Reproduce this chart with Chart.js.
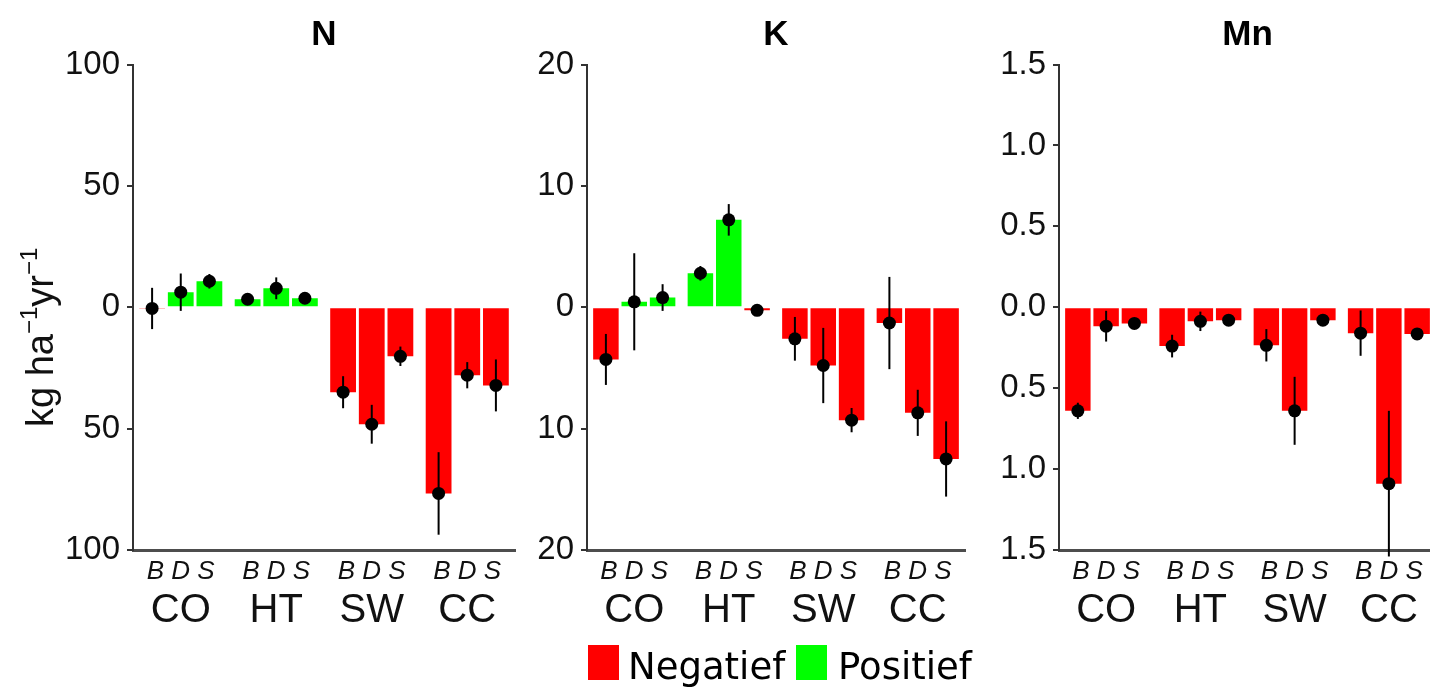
<!DOCTYPE html>
<html>
<head>
<meta charset="utf-8">
<script src="https://cdn.jsdelivr.net/npm/chart.js@4.4.1/dist/chart.umd.min.js"></script>
<style>
  html, body { margin: 0; padding: 0; background: #fff; overflow: hidden; width: 1430px; height: 688px; }
  canvas { position: absolute; top: 0; }
  .key { position: absolute; width: 31px; height: 35px; top: 645px; }
  .lab { position: absolute; font-family: 'DejaVu Sans', sans-serif; font-size: 37px; line-height: 37px; top: 648px; color: #000; white-space: nowrap; }
</style>
</head>
<body>
<canvas id="cN" width="520" height="688" style="left:0px"></canvas>
<canvas id="cK" width="460" height="688" style="left:520px"></canvas>
<canvas id="cMn" width="460" height="688" style="left:980px"></canvas>
<div class="key" style="left:588px;background:#ff0000"></div>
<div class="lab" style="left:628px">Negatief</div>
<div class="key" style="left:796px;background:#00ff00"></div>
<div class="lab" style="left:838px">Positief</div>
<script>
// Sites on the x axis and the three positions within each site
const sites = ['CO', 'HT', 'SW', 'CC'];
const positions = ['B', 'D', 'S'];

// N balance (kg ha-1 yr-1): means and standard errors per position
const nB = [-0.5, 3.3, -35, -76.7];
const nD = [6.2, 7.8, -48.2, -28];
const nS = [10.7, 3.7, -20.2, -32.2];
const nBse = [8.5, 1.2, 6.6, 17];
const nDse = [7.7, 4.5, 8, 5.4];
const nSse = [3, 1.5, 4, 10.7];
const nTicks = [-100, -50, 0, 50, 100];

// K balance
const kB = [-4.3, 2.8, -2.6, -1.3];
const kD = [0.45, 7.2, -4.8, -8.7];
const kS = [0.8, -0.25, -9.3, -12.5];
const kBse = [2.1, 0.6, 1.8, 3.8];
const kDse = [4, 1.3, 3.1, 1.9];
const kSse = [1.1, 0.2, 1, 3.1];
const kTicks = [-20, -10, 0, 10, 20];

// Mn balance
const mnB = [-0.64, -0.24, -0.235, -0.16];
const mnD = [-0.117, -0.087, -0.64, -1.09];
const mnS = [-0.1, -0.08, -0.08, -0.165];
const mnBse = [0.05, 0.07, 0.1, 0.14];
const mnDse = [0.095, 0.06, 0.21, 0.45];
const mnSse = [0.03, 0.015, 0.015, 0.02];
const mnTicks = [-1.5, -1.0, -0.5, 0, 0.5, 1.0, 1.5];

const RED = '#ff0000', GREEN = '#00ff00', INK = '#111';
const FONT = '"Liberation Sans", Arial, sans-serif';

// Error bars, mean points, panel title, site labels and the y-axis title
const decor = {
  id: 'decor',
  afterDatasetsDraw(chart, args, opts) {
    const ctx = chart.ctx, y = chart.scales.y;
    ctx.save();
    opts.errors.forEach((se, i) => {
      const meta = chart.getDatasetMeta(i);
      const vals = chart.data.datasets[i].data;
      meta.data.forEach((bar, j) => {
        const v = vals[j], e = se[j];
        const yt = y.getPixelForValue(v + e), yb = y.getPixelForValue(v - e);
        ctx.strokeStyle = '#000';
        ctx.lineWidth = 2;
        ctx.beginPath();
        ctx.moveTo(bar.x, yt);
        ctx.lineTo(bar.x, yb);
        ctx.stroke();
        ctx.fillStyle = '#000';
        ctx.beginPath();
        ctx.arc(bar.x, y.getPixelForValue(v), 6.5, 0, Math.PI * 2);
        ctx.fill();
      });
    });
    ctx.restore();
  },
  afterDraw(chart, args, opts) {
    const ctx = chart.ctx, x = chart.scales.x, area = chart.chartArea;
    ctx.save();
    ctx.fillStyle = '#000';
    ctx.textAlign = 'center';
    ctx.textBaseline = 'alphabetic';
    ctx.font = 'bold 35px ' + FONT;
    ctx.fillText(opts.title, (area.left + area.right) / 2, 45);
    ctx.fillStyle = INK;
    chart.data.labels.forEach((lab, i) => {
      const cx = x.getPixelForValue(i);
      ctx.font = 'italic 26px ' + FONT;
      ctx.fillText(positions.join(' '), cx, 579);
      ctx.font = '40px ' + FONT;
      ctx.fillText(lab, cx, 622);
    });
    if (opts.yTitle) {
      ctx.translate(53, 427);
      ctx.rotate(-Math.PI / 2);
      ctx.textAlign = 'left';
      let px = 0;
      const parts = [['kg ha', 38, 0], ['\u22121', 24, -16], ['yr', 38, 0], ['\u22121', 24, -16]];
      for (const [t, s, dy] of parts) {
        ctx.font = s + 'px ' + FONT;
        ctx.fillText(t, px, dy);
        px += ctx.measureText(t).width;
      }
    }
    ctx.restore();
  }
};

function panel(id, title, series, errors, ticks, digits, axisLeft, padRight, yTitle) {
  const min = ticks[0], max = ticks[ticks.length - 1];
  return new Chart(document.getElementById(id), {
    type: 'bar',
    data: {
      labels: sites,
      datasets: series.map((d, i) => ({
        label: positions[i],
        data: d,
        backgroundColor: ctx => (ctx.raw < 0 ? RED : GREEN),
        borderWidth: 0,
        categoryPercentage: 0.9,
        barPercentage: 0.9
      }))
    },
    options: {
      responsive: false,
      animation: false,
      events: [],
      layout: { padding: { top: 64.5, bottom: 688 - 550, left: 0, right: padRight } },
      plugins: {
        legend: { display: false },
        tooltip: { enabled: false },
        decor: { title, errors, yTitle }
      },
      scales: {
        x: {
          grid: { display: false, drawTicks: false },
          ticks: { display: false },
          border: { display: true, color: '#4d4d4d', width: 3 },
          afterFit: s => { s.height = 0; }
        },
        y: {
          min, max,
          afterBuildTicks: s => { s.ticks = ticks.map(v => ({ value: v })); },
          ticks: {
            font: { family: FONT, size: 33 },
            color: INK,
            padding: 7,
            callback: v => Math.abs(v).toFixed(digits)
          },
          grid: { display: true, drawOnChartArea: false, drawTicks: true, tickLength: 6, color: '#333', lineWidth: 2 },
          border: { display: true, color: '#333', width: 2 },
          afterFit: s => { s.width = axisLeft; }
        }
      }
    },
    plugins: [decor]
  });
}

panel('cN', 'N', [nB, nD, nS], [nBse, nDse, nSse], nTicks, 0, 133, 5, true);
panel('cK', 'K', [kB, kD, kS], [kBse, kDse, kSse], kTicks, 0, 67, 15, false);
panel('cMn', 'Mn', [mnB, mnD, mnS], [mnBse, mnDse, mnSse], mnTicks, 1, 79, 4, false);
</script>
</body>
</html>
